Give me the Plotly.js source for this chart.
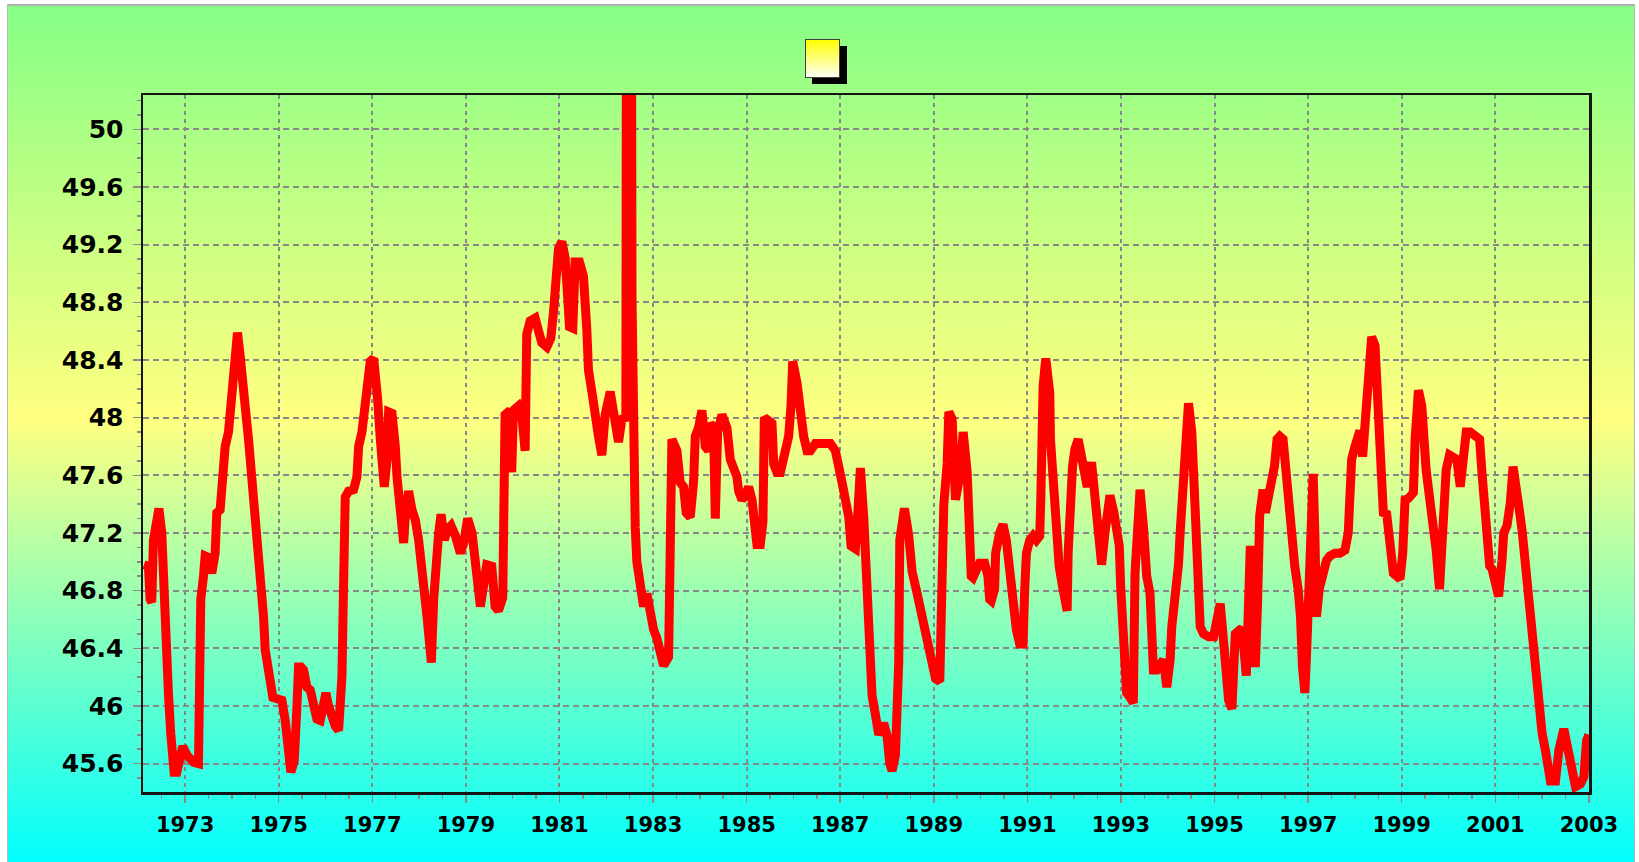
<!DOCTYPE html>
<html>
<head>
<meta charset="utf-8">
<script src="https://cdn.plot.ly/plotly-3.0.1.min.js"></script>
<style>
  html, body { margin: 0; padding: 0; width: 1639px; height: 862px; overflow: hidden; background: #ffffff; }
  #frame { position: absolute; left: 7px; top: 4px; width: 1626px; height: 858px;
           border-left: 1px solid #b8b8b8; border-top: 2px solid #b0b0b0; border-right: 1px solid #b8b8b8;
           background: linear-gradient(to bottom, #86FF86 0%, #FFFF80 48%, #00FFFF 100%); }
  #chart { position: absolute; left: 0; top: 0; width: 1639px; height: 862px; }
  #legShadow { position: absolute; left: 812px; top: 46px; width: 35px; height: 38px; background: #000; }
  #legBox { position: absolute; left: 805px; top: 39px; width: 33px; height: 37px;
            border: 1.5px solid #404040; background: linear-gradient(to bottom, #FFFF00 0%, #FFFFF4 100%); }
</style>
</head>
<body>
<div id="frame"></div>
<div id="chart"></div>
<div id="legShadow"></div>
<div id="legBox"></div>
<script>
// ---- data ----
const years = [
  1972.12,1972.216,1972.251,1972.287,1972.323,1972.394,1972.44,1972.501,1972.537,1972.572,
  1972.594,1972.643,1972.693,1972.729,1972.765,1972.822,1972.893,1972.950,1973.036,1973.178,
  1973.285,1973.299,1973.335,1973.392,1973.428,1973.499,1973.570,1973.642,1973.677,1973.749,
  1973.784,1973.856,1973.927,1973.963,1974.020,1974.055,1974.119,1974.176,1974.234,1974.283,
  1974.355,1974.405,1974.462,1974.476,1974.533,1974.569,1974.619,1974.676,1974.711,1974.783,
  1974.818,1974.875,1974.961,1975.068,1975.139,1975.189,1975.232,1975.260,1975.332,1975.367,
  1975.389,1975.424,1975.474,1975.531,1975.602,1975.674,1975.731,1975.816,1975.888,1975.959,
  1976.009,1976.066,1976.137,1976.209,1976.280,1976.316,1976.351,1976.387,1976.422,1976.494,
  1976.601,1976.672,1976.708,1976.779,1976.815,1976.886,1976.900,1976.957,1977.029,1977.086,
  1977.114,1977.171,1977.228,1977.257,1977.314,1977.349,1977.421,1977.456,1977.492,1977.528,
  1977.599,1977.656,1977.670,1977.706,1977.777,1977.848,1977.920,1977.991,1978.062,1978.098,
  1978.169,1978.205,1978.262,1978.312,1978.348,1978.419,1978.469,1978.540,1978.597,1978.683,
  1978.775,1978.882,1978.954,1979.039,1979.132,1979.203,1979.275,1979.310,
  1979.446,1979.553,1979.624,1979.695,1979.788,1979.802,1979.838,1979.945,1979.980,1980.016,
  1980.123,1980.194,1980.266,1980.301,1980.373,1980.480,1980.551,1980.622,1980.729,1980.815,
  1980.872,1980.929,1980.979,1981.050,1981.121,1981.171,1981.214,1981.285,1981.335,1981.428,
  1981.513,1981.585,1981.620,1981.692,1981.763,1981.834,1981.906,1981.977,1982.084,1982.155,
  1982.226,1982.262,1982.333,1982.383,1982.419,1982.44,1982.53,1982.55,1982.583,1982.619,
  1982.654,1982.725,1982.797,1982.868,1982.939,1983.011,1983.082,1983.153,1983.225,1983.332,
  1983.367,1983.403,1983.510,1983.581,1983.652,1983.709,1983.795,1983.866,1983.902,1983.973,
  1984.045,1984.116,1984.187,1984.223,1984.294,1984.330,1984.380,1984.472,1984.579,1984.651,
  1984.722,1984.793,1984.829,1984.900,1984.971,1985.043,1985.114,1985.185,1985.221,1985.292,
  1985.349,1985.378,1985.435,1985.542,1985.578,1985.649,1985.720,1985.756,1985.827,1985.898,
  1985.948,1985.984,1986.077,1986.148,1986.219,1986.291,1986.362,1986.469,1986.576,1986.790,
  1986.897,1986.968,1987.039,1987.111,1987.182,1987.232,1987.325,1987.360,1987.431,1987.503,
  1987.538,1987.574,1987.610,1987.681,1987.752,1987.824,1987.930,1988.002,1988.059,1988.109,
  1988.180,1988.216,1988.251,1988.273,1988.323,1988.373,1988.465,1988.537,1988.644,1988.750,
  1988.857,1988.964,1989.036,1989.128,1989.157,1989.214,1989.285,1989.321,1989.392,1989.428,
  1989.463,1989.570,1989.627,1989.713,1989.748,1989.783,
  1989.800,1989.836,1989.907,1989.979,1990.086,1990.157,1990.193,1990.229,1990.300,1990.321,
  1990.407,1990.479,1990.550,1990.621,1990.657,1990.693,1990.764,1990.836,1990.907,1990.943,
  1990.979,1991.050,1991.121,1991.193,1991.264,1991.286,1991.300,1991.336,1991.393,1991.479,
  1991.493,1991.529,1991.586,1991.636,1991.679,1991.750,1991.800,1991.850,1991.871,1991.907,
  1991.964,1992.014,1992.086,1992.157,1992.229,1992.279,1992.371,1992.443,1992.493,1992.536,
  1992.586,1992.657,1992.729,1992.764,1992.850,1992.907,1992.964,1992.993,1993.036,1993.071,
  1993.121,1993.193,1993.264,1993.300,1993.371,1993.407,1993.479,1993.514,1993.550,1993.621,
  1993.657,1993.693,1993.764,1993.836,1993.907,1993.979,1994.050,1994.086,1994.157,1994.229,
  1994.264,1994.300,1994.336,1994.371,1994.443,1994.514,1994.550,1994.621,1994.679,1994.693,
  1994.764,1994.871,1994.979,1995.050,1995.121,1995.179,1995.229,1995.300,1995.371,1995.421,
  1995.443,1995.514,1995.586,1995.679,1995.729,1995.764,1995.821,1995.871,1995.921,1995.964,
  1996.036,1996.086,1996.157,1996.229,1996.279,1996.336,
  1996.393,1996.464,1996.500,1996.571,1996.607,1996.664,1996.714,1996.786,1996.836,1996.879,
  1996.929,1996.964,1997.021,1997.050,1997.107,1997.143,1997.179,1997.236,1997.286,1997.336,
  1997.393,1997.464,1997.571,1997.679,1997.786,1997.857,1997.907,1997.929,1998.000,1998.071,
  1998.107,1998.164,1998.214,1998.264,1998.307,1998.357,1998.429,1998.464,1998.500,1998.571,
  1998.607,1998.679,1998.750,1998.821,1998.893,1998.964,1999.021,1999.071,1999.143,1999.250,
  1999.286,1999.357,1999.429,1999.464,1999.521,1999.593,1999.664,1999.736,1999.807,1999.857,
  1999.907,1999.950,2000.021,2000.107,2000.179,2000.250,2000.321,2000.379,2000.464,2000.571,
  2000.664,2000.714,2000.764,2000.821,2000.879,2000.929,2001.000,2001.071,2001.143,2001.179,
  2001.250,2001.321,2001.379,2001.429,2001.500,2001.571,2001.643,2001.714,2001.786,2001.857,
  2001.929,2002.000,2002.071,2002.179,2002.286,2002.357,2002.464,2002.571,2002.643,2002.714,
  2002.821,2002.893,2002.950,2003.0
];
const values = [
  46.98,46.97,46.74,46.72,47.15,47.37,47.37,47.20,46.78,46.76,
  46.37,46.09,45.81,45.67,45.54,45.54,45.62,45.72,45.66,45.61,
  45.60,46.16,46.74,46.90,47.04,47.03,46.92,47.06,47.34,47.36,
  47.56,47.80,47.90,48.06,48.24,48.43,48.59,48.43,48.29,48.08,
  47.85,47.66,47.52,47.34,47.13,46.98,46.78,46.62,46.39,46.23,
  46.13,46.06,46.05,46.04,45.90,45.74,45.60,45.54,45.62,45.76,
  45.99,46.27,46.27,46.25,46.13,46.11,46.04,45.91,45.90,46.06,
  46.09,46.00,45.92,45.86,45.83,45.97,46.20,46.85,47.45,47.49,
  47.50,47.59,47.80,47.90,48.01,48.17,48.36,48.39,48.41,48.29,
  48.13,47.85,47.66,47.52,47.71,48.04,48.03,47.94,47.80,47.59,
  47.39,47.18,47.13,47.32,47.49,47.36,47.29,47.15,46.98,46.81,
  46.62,46.50,46.30,46.74,46.98,47.20,47.33,47.15,47.22,47.25,
  47.18,47.06,47.13,47.30,47.20,47.01,46.74,46.69,
  46.98,46.97,46.69,46.66,46.75,47.37,48.02,48.05,47.62,48.05,
  48.08,48.02,47.77,48.58,48.67,48.69,48.61,48.52,48.49,48.55,
  48.73,49.01,49.17,49.22,49.11,48.86,48.63,48.62,49.08,49.08,
  48.98,48.61,48.33,48.18,47.99,47.87,47.74,48.02,48.18,48.05,
  47.87,47.83,47.99,47.99,48.00,53.00,53.00,48.83,47.46,47.24,
  47.00,46.78,46.69,46.78,46.62,46.53,46.47,46.34,46.28,46.34,
  47.09,47.85,47.77,47.55,47.52,47.34,47.31,47.55,47.87,47.93,
  48.05,47.80,47.77,47.96,47.93,47.30,47.90,48.02,47.93,47.71,
  47.65,47.59,47.49,47.43,47.46,47.52,47.43,47.24,47.12,47.12,
  47.28,48.00,47.99,47.96,47.68,47.62,47.62,47.68,47.74,47.87,
  48.08,48.39,48.24,47.99,47.87,47.77,47.77,47.82,47.82,47.82,
  47.77,47.68,47.55,47.43,47.31,47.11,47.09,47.24,47.65,47.31,
  47.06,46.69,46.34,46.07,45.94,45.80,45.88,45.79,45.60,45.55,
  45.66,45.94,46.31,47.15,47.34,47.37,47.18,46.93,46.78,46.62,
  46.47,46.31,46.19,46.17,46.78,47.40,47.68,48.04,47.99,47.74,
  47.43,47.62,47.90,47.62,47.24,46.90,
  46.90,46.89,46.94,46.99,46.99,46.90,46.74,46.73,46.81,47.06,
  47.20,47.26,47.15,46.90,46.76,46.67,46.53,46.43,46.43,46.81,
  47.06,47.15,47.18,47.15,47.18,47.43,47.85,48.22,48.41,48.17,
  47.85,47.66,47.48,47.25,46.97,46.83,46.69,46.66,47.06,47.43,
  47.66,47.78,47.85,47.73,47.57,47.52,47.69,47.43,47.25,47.06,
  46.98,47.20,47.43,47.46,47.34,47.20,47.11,46.83,46.50,46.27,
  46.09,46.06,46.02,46.92,47.25,47.50,47.25,46.92,46.90,46.78,
  46.50,46.25,46.25,46.30,46.32,46.13,46.32,46.55,46.74,46.98,
  47.20,47.43,47.66,47.90,48.10,47.90,47.62,47.20,46.85,46.55,
  46.50,46.48,46.48,46.60,46.71,46.50,46.27,46.04,45.98,46.27,
  46.50,46.52,46.54,46.21,46.67,47.11,46.74,46.27,46.74,47.32,
  47.50,47.34,47.46,47.57,47.66,47.85,
  47.87,47.85,47.71,47.59,47.43,47.20,46.97,46.81,46.62,46.27,
  46.09,46.34,46.74,47.20,47.61,47.20,46.62,46.81,46.90,46.97,
  47.01,47.04,47.06,47.06,47.08,47.20,47.45,47.71,47.80,47.87,
  47.91,47.73,47.92,48.17,48.36,48.56,48.50,48.27,47.94,47.62,
  47.34,47.33,47.11,46.92,46.90,46.88,47.06,47.43,47.44,47.48,
  47.85,48.19,48.08,47.87,47.64,47.45,47.29,47.08,46.81,47.06,
  47.32,47.64,47.74,47.73,47.71,47.52,47.73,47.90,47.90,47.87,
  47.85,47.62,47.39,47.15,46.97,46.95,46.83,46.76,47.01,47.20,
  47.25,47.41,47.66,47.48,47.39,47.22,46.97,46.69,46.41,46.16,
  45.92,45.81,45.69,45.48,45.48,45.69,45.84,45.69,45.53,45.44,
  45.46,45.51,45.76,45.80
];
const xTick0 = 1973, xDtick = 2;           // year labels 1973 ... 2003
const yTick0 = 45.6, yDtick = 0.4;         // value labels 45.6 ... 50

if (years.length !== values.length) console.error('length mismatch', years.length, values.length);

const trace = {
  x: years, y: values, type: 'scatter', mode: 'lines',
  line: { color: '#FF0000', width: 9 },
  hoverinfo: 'skip', showlegend: false
};

const tickFont = { family: 'DejaVu Sans, Verdana, sans-serif', weight: 'bold', color: '#000' };

const layout = {
  width: 1639, height: 862,
  margin: { l: 143, r: 50, t: 95, b: 70, pad: 0 },
  paper_bgcolor: 'rgba(0,0,0,0)', plot_bgcolor: 'rgba(0,0,0,0)',
  showlegend: false,
  xaxis: {
    range: [1972.1, 2003.002], tickmode: 'linear', tick0: xTick0, dtick: xDtick, tickformat: 'd',
    showline: true, linecolor: '#141414', linewidth: 2.5, mirror: true,
    ticks: 'outside', ticklen: 8, tickwidth: 1.5, tickcolor: '#8a8a8a',
    showgrid: true, gridcolor: '#888888', gridwidth: 2, griddash: '4px,4px',
    zeroline: false, ticklabelstandoff: 4,
    tickfont: Object.assign({ size: 21 }, tickFont),
    minor: { dtick: 0.5, tick0: xTick0, ticks: 'outside', ticklen: 4, tickwidth: 1.5, tickcolor: '#8a8a8a', showgrid: false }
  },
  yaxis: {
    range: [45.403, 50.238], tickmode: 'linear', tick0: yTick0, dtick: yDtick,
    showline: true, linecolor: '#141414', linewidth: 2.5, mirror: true,
    ticks: 'outside', ticklen: 8, tickwidth: 1.5, tickcolor: '#8a8a8a',
    showgrid: true, gridcolor: '#888888', gridwidth: 2, griddash: '6px,4px',
    zeroline: false, ticklabelstandoff: 4,
    tickfont: Object.assign({ size: 25 }, tickFont),
    minor: { dtick: 0.1, tick0: yTick0, ticks: 'outside', ticklen: 4, tickwidth: 1.5, tickcolor: '#8a8a8a', showgrid: false }
  }
};

Plotly.newPlot('chart', [trace], layout, { staticPlot: true, displayModeBar: false });
</script>
</body>
</html>
